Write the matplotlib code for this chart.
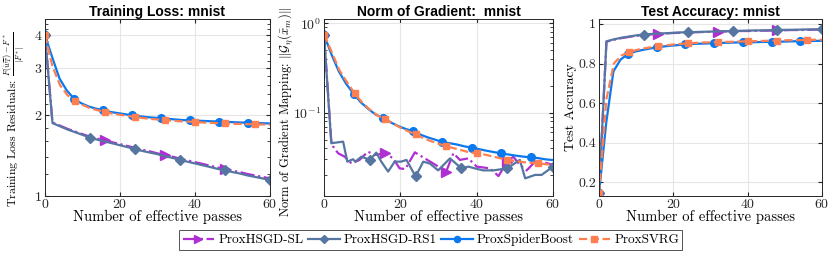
import numpy as np
import matplotlib.pyplot as plt
from matplotlib.ticker import FixedLocator, NullFormatter, ScalarFormatter

plt.rcParams['font.family'] = 'serif'
plt.rcParams['font.serif'] = ['cmr10', 'DejaVu Serif']
plt.rcParams['mathtext.fontset'] = 'cm'
plt.rcParams['axes.formatter.use_mathtext'] = True

# effective passes
x_pass = np.linspace(0, 60, 31)      # ProxHSGD-SL, ProxHSGD-RS1, ProxSVRG
x_spider = np.linspace(0, 60, 32)    # ProxSpiderBoost

names = ['ProxHSGD-SL', 'ProxHSGD-RS1', 'ProxSpiderBoost', 'ProxSVRG']

# training loss residuals
loss_sl = [4.0, 1.88, 1.83, 1.78, 1.74, 1.70, 1.665, 1.635, 1.61, 1.585, 1.56,
           1.535, 1.51, 1.485, 1.465, 1.44, 1.42, 1.40, 1.375, 1.355, 1.335,
           1.315, 1.295, 1.275, 1.26, 1.24, 1.225, 1.205, 1.19, 1.175, 1.16]
loss_rs1 = [4.0, 1.87, 1.82, 1.77, 1.73, 1.69, 1.65, 1.62, 1.595, 1.57, 1.545,
            1.52, 1.495, 1.47, 1.45, 1.43, 1.405, 1.385, 1.36, 1.34, 1.32,
            1.30, 1.28, 1.26, 1.245, 1.225, 1.21, 1.19, 1.175, 1.16, 1.145]
loss_spider = [4.0, 3.3, 2.75, 2.48, 2.31, 2.22, 2.16, 2.12, 2.09, 2.06, 2.04,
               2.02, 2.0, 1.985, 1.97, 1.96, 1.95, 1.94, 1.93, 1.92, 1.915,
               1.91, 1.905, 1.9, 1.895, 1.89, 1.885, 1.88, 1.878, 1.872, 1.868,
               1.865]
loss_svrg = [4.0, 3.05, 2.6, 2.38, 2.27, 2.19, 2.13, 2.09, 2.06, 2.03, 2.01,
             1.99, 1.97, 1.955, 1.94, 1.93, 1.92, 1.91, 1.90, 1.895, 1.89,
             1.88, 1.875, 1.87, 1.865, 1.86, 1.857, 1.853, 1.85, 1.848, 1.846]

# norm of gradient mapping (the hybrid methods are noisy, read point by point)
x_grad_sl = [0, 1.9, 2.4, 3.7, 5.4, 7.2, 9.3, 11.5, 13.3, 16, 18.1, 19.8, 21.3,
             23.8, 26.4, 28.6, 32, 33.9, 35.6, 37.8, 40, 43.5, 45.7, 48, 49.6,
             51.3, 53.1, 55.3, 57, 60]
grad_sl = [0.75, 0.048, 0.0417, 0.0351, 0.0322, 0.027, 0.0296, 0.0366, 0.0336,
           0.0351, 0.0308, 0.0238, 0.0234, 0.036, 0.0308, 0.027, 0.0219,
           0.0351, 0.0296, 0.0308, 0.0249, 0.0238, 0.0195, 0.0283, 0.0322,
           0.026, 0.0226, 0.0283, 0.0283, 0.026]
x_grad_rs1 = [0, 1.9, 5, 6.1, 7.6, 8.2, 9.8, 12, 13.7, 15, 16.8, 18.5, 20.2,
              21.6, 24, 26, 27.7, 29.9, 33, 36, 37.8, 39.5, 41.7, 44.4, 48,
              51.3, 52.7, 55.3, 57, 60]
grad_rs1 = [0.75, 0.0455, 0.0474, 0.0283, 0.0301, 0.0283, 0.0322, 0.0296,
            0.0357, 0.0283, 0.0219, 0.0283, 0.0283, 0.0296, 0.0193, 0.0283,
            0.027, 0.0226, 0.0308, 0.0238, 0.0249, 0.0238, 0.0226, 0.0226,
            0.0238, 0.0296, 0.0184, 0.0201, 0.0201, 0.0249]
grad_spider = [0.75, 0.45, 0.29, 0.21, 0.163, 0.13, 0.11, 0.095, 0.087, 0.078,
               0.071, 0.066, 0.062, 0.057, 0.053, 0.05, 0.047, 0.0455, 0.044,
               0.042, 0.0405, 0.039, 0.0375, 0.0362, 0.035, 0.034, 0.033,
               0.0322, 0.0316, 0.031, 0.030, 0.0295]
grad_svrg = [0.75, 0.48, 0.3, 0.22, 0.165, 0.13, 0.108, 0.093, 0.085, 0.076,
             0.068, 0.062, 0.057, 0.052, 0.048, 0.045, 0.042, 0.04, 0.038,
             0.036, 0.035, 0.034, 0.0325, 0.031, 0.0297, 0.0288, 0.028,
             0.0275, 0.027, 0.0265, 0.026]

# test accuracy
acc_sl = [0.145, 0.91, 0.92, 0.928, 0.934, 0.94, 0.944, 0.947, 0.95, 0.952,
          0.954, 0.955, 0.957, 0.958, 0.959, 0.96, 0.961, 0.962, 0.963, 0.964,
          0.964, 0.965, 0.966, 0.966, 0.967, 0.968, 0.969, 0.969, 0.97, 0.971,
          0.972]
acc_rs1 = [0.145, 0.912, 0.922, 0.93, 0.936, 0.942, 0.946, 0.949, 0.951,
           0.953, 0.955, 0.957, 0.958, 0.959, 0.96, 0.961, 0.962, 0.963, 0.964,
           0.965, 0.966, 0.967, 0.967, 0.968, 0.969, 0.97, 0.97, 0.971, 0.972,
           0.972, 0.973]
acc_spider = [0.145, 0.5, 0.76, 0.82, 0.847, 0.86, 0.868, 0.875, 0.882, 0.886,
              0.89, 0.893, 0.897, 0.899, 0.9, 0.901, 0.903, 0.904, 0.905,
              0.906, 0.907, 0.907, 0.908, 0.909, 0.909, 0.91, 0.911, 0.912,
              0.913, 0.914, 0.914, 0.915]
acc_svrg = [0.145, 0.62, 0.8, 0.84, 0.857, 0.868, 0.876, 0.882, 0.889, 0.892,
            0.896, 0.899, 0.902, 0.904, 0.906, 0.907, 0.908, 0.909, 0.91,
            0.911, 0.912, 0.913, 0.914, 0.915, 0.916, 0.917, 0.918, 0.918,
            0.919, 0.92, 0.92]

colors = ['#B02FD2', '#5676A2', '#0A78EE', '#FF7F50']
styles = [dict(ls='-.', marker='>', ms=6.5),
          dict(ls='-', marker='D', ms=5),
          dict(ls='-', marker='o', ms=5.5),
          dict(ls='--', marker='s', ms=5)]
marks_every = [8, 6, 4, 4]


def marker_idx(xs, where):
    xs = list(xs)
    return [xs.index(v) for v in where]


def style_axes(ax):
    ax.set_xlim(0, 60)
    ax.set_xticks([0, 20, 40, 60])
    ax.grid(True, which='major', color='#e6e6e6', lw=0.8)
    ax.set_axisbelow(True)
    ax.tick_params(which='both', direction='in', top=True, right=True,
                   labelsize=10, colors='#262626', length=3, pad=2)
    ax.tick_params(which='minor', length=2)
    for sp in ax.spines.values():
        sp.set_color('#262626')
        sp.set_linewidth(0.7)
    ax.set_xlabel('Number of effective passes', fontsize=10.5, labelpad=-1)


fig = plt.figure(figsize=(8.3, 2.56), dpi=100)
ax1 = fig.add_axes([0.0542, 0.236, 0.2711, 0.690])
ax2 = fig.add_axes([0.3904, 0.236, 0.2759, 0.690])
ax3 = fig.add_axes([0.7217, 0.236, 0.2687, 0.690])

# training loss
loss = [loss_sl, loss_rs1, loss_spider, loss_svrg]
xs = [x_pass, x_pass, x_spider, x_pass]
lines = []
for i in range(4):
    ln, = ax1.plot(xs[i], loss[i], color=colors[i], lw=1.6,
                   markevery=marks_every[i], label=names[i], **styles[i])
    lines.append(ln)
ax1.set_yscale('log')
ax1.set_ylim(1, 4.6)
ax1.yaxis.set_major_locator(FixedLocator([1, 2, 3, 4]))
ax1.yaxis.set_major_formatter(ScalarFormatter())
ax1.yaxis.set_minor_locator(FixedLocator(np.arange(1.2, 4.6, 0.2)))
ax1.yaxis.set_minor_formatter(NullFormatter())
style_axes(ax1)
ax1.set_title('Training Loss: mnist', fontsize=10, fontweight='bold',
              family='Liberation Sans', pad=2)
ax1.set_ylabel(r'Training Loss Residuals: $\frac{F(\widetilde{w_T})-F^*}{|F^*|}$',
               fontsize=8.5, labelpad=2)
ax1.yaxis.set_label_coords(-0.075, 0.43)

# gradient mapping
ax2.plot(x_grad_sl, grad_sl, color=colors[0], lw=1.6,
         markevery=marker_idx(x_grad_sl, [0, 16, 32, 48]), **styles[0])
ax2.plot(x_grad_rs1, grad_rs1, color=colors[1], lw=1.6,
         markevery=marker_idx(x_grad_rs1, [0, 12, 24, 36, 48, 60]), **styles[1])
ax2.plot(x_spider, grad_spider, color=colors[2], lw=1.6,
         markevery=marks_every[2], **styles[2])
ax2.plot(x_pass, grad_svrg, color=colors[3], lw=1.6,
         markevery=marks_every[3], **styles[3])
ax2.set_yscale('log')
ax2.set_ylim(0.0118, 1.12)
ax2.yaxis.set_minor_formatter(NullFormatter())
style_axes(ax2)
ax2.set_title('Norm of Gradient:  mnist', fontsize=10, fontweight='bold',
              family='Liberation Sans', pad=2)
ax2.set_ylabel(r'Norm of Gradient Mapping: $\|\mathcal{G}_\eta(\bar{x}_m)\|$',
               fontsize=9, labelpad=0)
ax2.yaxis.set_label_coords(-0.128, 0.47)

# test accuracy
acc = [acc_sl, acc_rs1, acc_spider, acc_svrg]
for i in range(4):
    ax3.plot(xs[i], acc[i], color=colors[i], lw=1.6,
             markevery=marks_every[i], **styles[i])
ax3.set_ylim(0.133, 1.025)
ax3.set_yticks([0.2, 0.4, 0.6, 0.8, 1])
ax3.set_yticklabels(['0.2', '0.4', '0.6', '0.8', '1'])
style_axes(ax3)
ax3.set_title('Test Accuracy: mnist', fontsize=10, fontweight='bold',
              family='Liberation Sans', pad=2)
ax3.set_ylabel('Test Accuracy', fontsize=10, labelpad=1)

leg = fig.legend(handles=lines, loc='center', bbox_to_anchor=(0.519, 0.0625),
                 ncol=4, fontsize=9.5, frameon=True, fancybox=False,
                 handlelength=2.4, columnspacing=0.35, handletextpad=0.3,
                 borderpad=0.25, markerscale=0.8)
leg.get_frame().set_edgecolor('#262626')
leg.get_frame().set_linewidth(0.7)

fig.savefig('out.png', dpi=100)
